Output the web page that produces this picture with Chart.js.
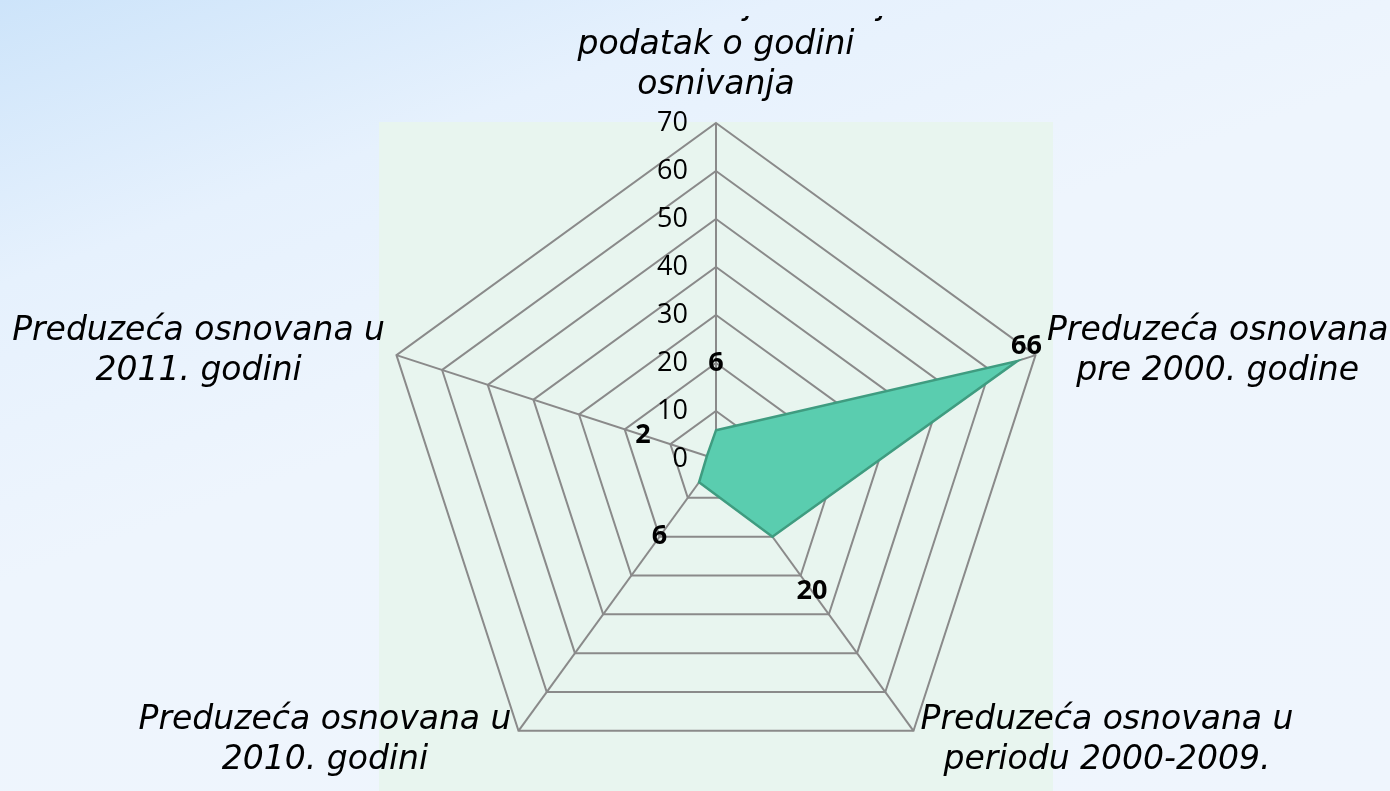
<!DOCTYPE html>
<html>
<head>
<meta charset="utf-8">
<script src="https://cdn.jsdelivr.net/npm/chart.js@4.4.1/dist/chart.umd.min.js"></script>
<style>
  html, body { margin: 0; padding: 0; width: 1390px; height: 791px; overflow: hidden; }
  body { background: linear-gradient(160deg, #cde4fa 0%, #e6f1fd 22%, #eef5fd 45%, #eff5fd 100%); }
  #wrap { position: absolute; left: 0; top: 16px; width: 1390px; height: 790px; }
</style>
</head>
<body>
<div id="wrap"><canvas id="myChart" width="1390" height="790"></canvas></div>
<script>
// categories (axes), clockwise from the top
const categories = [
  ['Preduzeća koja nemaju', 'podatak o godini', 'osnivanja'],
  ['Preduzeća osnovana', 'pre 2000. godine'],
  ['Preduzeća osnovana u', 'periodu 2000-2009.'],
  ['Preduzeća osnovana u', '2010. godini'],
  ['Preduzeća osnovana u', '2011. godini']
];
const values = [6, 66, 20, 6, 2];
const tickMin = 0;
const tickMax = 70;
const tickStep = 10;

const labelFont = '"DejaVu Sans", sans-serif';
const numFont = '"Open Sans", sans-serif';

// light green plot area behind the web
const plotBg = {
  id: 'plotBg',
  beforeDraw(chart) {
    const s = chart.scales.r;
    const c = chart.ctx;
    c.save();
    c.fillStyle = '#e8f5ef';
    c.fillRect(s.xCenter - s.drawingArea - 1, s.yCenter - s.drawingArea - 1,
      s.drawingArea * 2 + 2, chart.height);
    c.restore();
  }
};

// tick numbers to the left of the top axis, axis titles, value labels
const texts = {
  id: 'texts',
  afterDraw(chart) {
    const s = chart.scales.r;
    const c = chart.ctx;
    c.save();
    c.fillStyle = '#000';

    c.font = '27px ' + numFont;
    c.textAlign = 'right';
    c.textBaseline = 'middle';
    s.ticks.forEach(t => {
      const d = s.getDistanceFromCenterForValue(t.value);
      c.fillText(String(t.value), s.xCenter - 28, s.yCenter - d);
    });

    c.font = 'italic 33px ' + labelFont;
    const lh = 40;
    categories.forEach((lines, i) => {
      const p = s.getPointPosition(i, s.drawingArea + 12);
      const w = Math.max(...lines.map(l => c.measureText(l).width));
      let cx;
      if (Math.abs(p.x - s.xCenter) < 5) cx = p.x;
      else if (p.x > s.xCenter) cx = p.x + w / 2;
      else cx = p.x - w / 2;
      let y0;
      if (i === 0) y0 = p.y - 26 - (lines.length - 1) * lh;
      else y0 = p.y - (lines.length - 1) * lh / 2;
      c.textAlign = 'center';
      lines.forEach((l, k) => c.fillText(l, cx, y0 + k * lh));
    });

    c.font = 'bold 27px ' + numFont;
    c.textAlign = 'center';
    values.forEach((v, i) => {
      const at = v + 14 > tickMax ? v + 2 : v + 14;
      const p = s.getPointPosition(i, s.getDistanceFromCenterForValue(at));
      c.fillText(String(v), p.x, p.y + (at === v + 2 ? -12 : 0));
    });
    c.restore();
  }
};

const ctx = document.getElementById('myChart');
const chart = new Chart(ctx, {
  type: 'radar',
  data: {
    labels: categories,
    datasets: [{
      data: values,
      backgroundColor: '#5acdaf',
      borderColor: '#3f9c80',
      borderWidth: 2.5,
      pointRadius: 0,
      fill: true
    }]
  },
  options: {
    responsive: false,
    animation: false,
    devicePixelRatio: 1,
    layout: { padding: { left: 380, right: 338, top: 107, bottom: 11 } },
    plugins: { legend: { display: false }, tooltip: { enabled: false } },
    scales: {
      r: {
        z: 1,
        min: tickMin,
        max: tickMax,
        ticks: { stepSize: tickStep, display: false },
        pointLabels: { display: false },
        grid: { circular: false, color: '#8a8a8a', lineWidth: 2 },
        angleLines: { color: '#8a8a8a', lineWidth: 2 }
      }
    }
  },
  plugins: [plotBg, texts]
});
</script>
</body>
</html>
